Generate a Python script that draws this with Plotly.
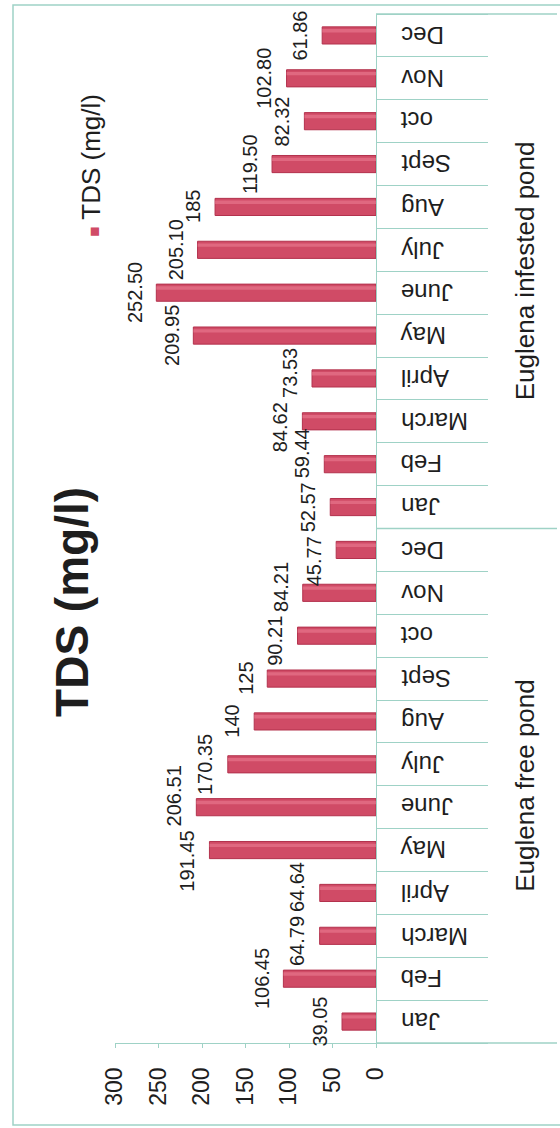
import plotly.graph_objects as go

# Monthly total dissolved solids, two ponds
months = ["Jan", "Feb", "March", "April", "May", "June",
          "July", "Aug", "Sept", "oct", "Nov", "Dec"]
ponds = ["Euglena free pond", "Euglena infested pond"]
free_pond_tds = ["39.05", "106.45", "64.79", "64.64", "191.45", "206.51",
                 "170.35", "140", "125", "90.21", "84.21", "45.77"]
infested_pond_tds = ["52.57", "59.44", "84.62", "73.53", "209.95", "252.50",
                     "205.10", "185", "119.50", "82.32", "102.80", "61.86"]
value_ticks = [0, 50, 100, 150, 200, 250, 300]

series_name = "TDS (mg/l)"
title_text = "TDS (mg/l)"

# unique category keys (pond|month), shown with month names only
cats, labels, texts = [], [], []
for pond, vals in zip(ponds, [free_pond_tds, infested_pond_tds]):
    for m, v in zip(months, vals):
        cats.append(f"{pond}|{m}")
        labels.append(m)
        texts.append(v)
values = [float(t) for t in texts]

FONT = "Liberation Sans, Arial, sans-serif"
INK = "#1e1e1e"
TEAL = "#9fd2c6"
BAR = "#d04b66"

W, H = 560, 1128
MARGIN = dict(l=115, r=184, t=14, b=85)
X_MAX = 300
LABEL_SIZE = 20
LABEL_GAP = 9

# --- nudge crowded value labels apart along the category axis ---
plot_w = W - MARGIN["l"] - MARGIN["r"]
plot_h = H - MARGIN["t"] - MARGIN["b"]
px_per_unit = plot_w / X_MAX
slot = plot_h / len(cats)


def glyph_span(v):
    right = -v * px_per_unit - LABEL_GAP
    return right - 19, right - 3


def half_len(t):
    return 0.5 * LABEL_SIZE * sum(0.278 if ch == "." else 0.556 for ch in t)


shifts = [0.0] * len(cats)
for _ in range(40):
    for i in range(len(cats) - 1):
        a0, a1 = glyph_span(values[i])
        b0, b1 = glyph_span(values[i + 1])
        if min(a1, b1) <= max(a0, b0):
            continue
        lo_top = i * slot + shifts[i] + half_len(texts[i])
        hi_bot = (i + 1) * slot + shifts[i + 1] - half_len(texts[i + 1])
        need = lo_top + 4 - hi_bot
        if need > 0:
            shifts[i] -= need / 2
            shifts[i + 1] += need / 2

fig = go.Figure()
fig.add_trace(go.Bar(
    x=values, y=cats, orientation="h", width=0.4,
    marker=dict(color=BAR, line=dict(color="#b3324d", width=1)),
    name=series_name, showlegend=False, hoverinfo="x+y",
))
# soft stripe giving the rounded bar look
fig.add_trace(go.Bar(
    x=values, y=cats, orientation="h", width=0.08, offset=0.07,
    marker=dict(color="rgba(236,130,150,0.55)", line=dict(width=0)),
    showlegend=False, hoverinfo="skip",
))

annotations = []
# value labels just past the end of each bar
for c, v, t, s in zip(cats, values, texts, shifts):
    annotations.append(dict(
        x=v, y=c, xref="x", yref="y", text=t, showarrow=False,
        textangle=-90, xanchor="right", yanchor="middle",
        xshift=-LABEL_GAP, yshift=s,
        font=dict(family=FONT, size=LABEL_SIZE, color=INK),
    ))

# month names beside the category axis (upside down, left aligned)
for c, m in zip(cats, labels):
    annotations.append(dict(
        x=1.088, y=c, xref="paper", yref="y", text=m, showarrow=False,
        textangle=180, xanchor="left", yanchor="middle",
        font=dict(family=FONT, size=24, color=INK),
    ))

n = len(months)
# pond group labels
for i, pond in enumerate(ponds):
    annotations.append(dict(
        x=1.571, y=i * n + (n - 1) / 2, xref="paper", yref="y",
        text=pond, showarrow=False, textangle=-90,
        xanchor="center", yanchor="middle",
        font=dict(family=FONT, size=26, color=INK),
    ))

# chart title
annotations.append(dict(
    x=-0.165, y=0.4286, xref="paper", yref="paper",
    text=f"<b>{title_text}</b>", showarrow=False, textangle=-90,
    xanchor="center", yanchor="middle",
    font=dict(family=FONT, size=46, color=INK),
))
# legend entry
annotations.append(dict(
    x=-0.09, y=0.853, xref="paper", yref="paper",
    text=f"<span style='color:{BAR};font-size:17px'>■</span> {series_name}",
    showarrow=False, textangle=-90, xanchor="center", yanchor="middle",
    font=dict(family=FONT, size=26, color=INK),
))

shapes = []
# long dividers at the pond group boundaries
total = len(cats)
for k in range(len(ponds) + 1):
    yb = k * n / total
    shapes.append(dict(
        type="line", xref="paper", yref="paper",
        x0=1, x1=1.6935, y0=yb, y1=yb,
        line=dict(color=TEAL, width=1.3),
    ))
# outer chart border
shapes.append(dict(
    type="rect", xref="paper", yref="paper",
    x0=-0.3908, x1=1.8, y0=-0.0797, y1=1.00875,
    line=dict(color=TEAL, width=1.5), fillcolor="rgba(0,0,0,0)",
    layer="below",
))

fig.update_layout(
    width=W, height=H,
    margin=MARGIN,
    paper_bgcolor="white", plot_bgcolor="white",
    barmode="overlay",
    showlegend=False,
    font=dict(family=FONT, color=INK),
    annotations=annotations,
    shapes=shapes,
    xaxis=dict(
        range=[X_MAX, 0], tickvals=value_ticks,
        showgrid=False, zeroline=False,
        showline=True, linecolor=TEAL, linewidth=1.3,
        ticks="outside", ticklen=4, tickcolor=TEAL,
        tickangle=-90, ticklabelstandoff=10,
        tickfont=dict(family=FONT, size=23, color=INK),
    ),
    yaxis=dict(
        type="category", categoryorder="array", categoryarray=cats,
        range=[-0.5, total - 0.5], autorange=False,
        tickmode="array", tickvals=cats, showticklabels=False,
        side="right", showgrid=False, zeroline=False,
        showline=True, linecolor=TEAL, linewidth=1.3,
        ticks="outside", tickson="boundaries", ticklen=111,
        tickcolor=TEAL, tickwidth=1.3,
    ),
)

fig.write_html("out.html")
